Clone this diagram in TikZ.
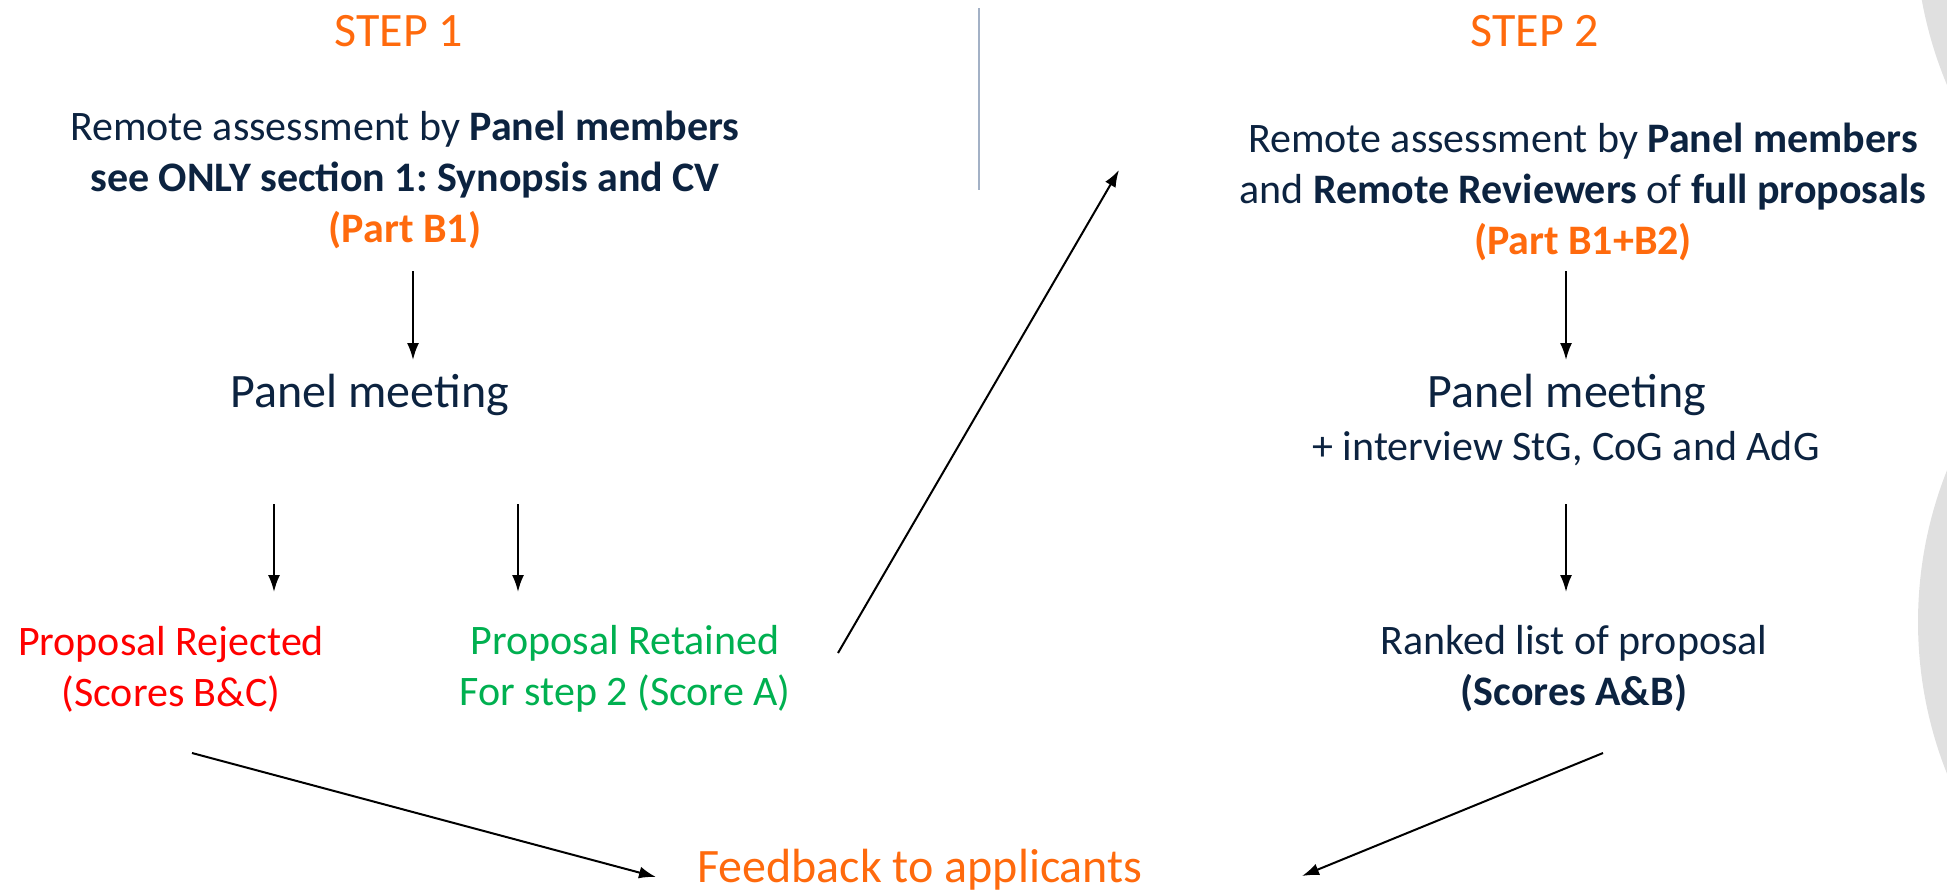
\documentclass[tikz,border=0pt]{standalone}
\usepackage{fontspec}
\setmainfont{Carlito}
\usetikzlibrary{arrows.meta}
\definecolor{navy}{HTML}{0C2340}
\definecolor{ercorange}{HTML}{FF6A0D}
\definecolor{ercred}{HTML}{FF0000}
\definecolor{ercgreen}{HTML}{00B050}
\definecolor{divgray}{HTML}{A3B1C6}
\definecolor{circgray}{HTML}{E0E0E0}
\frenchspacing
\begin{document}
\begin{tikzpicture}[x=0.5pt,y=-0.5pt,
  txt/.style={inner sep=0pt, outer sep=0pt},
  body/.style={txt, font=\fontsize{21pt}{25.5pt}\selectfont, text=navy, align=center},
  big/.style={txt, font=\fontsize{24pt}{29pt}\selectfont, text=navy},
  steptitle/.style={txt, font=\fontsize{24pt}{29pt}\selectfont, text=ercorange},
  arr/.style={line width=1pt, -{Latex[length=8.5pt,width=6pt]}}
]
\useasboundingbox (0,0) rectangle (1947,894);
\begin{scope}
  \clip (0,0) rectangle (1947,894);
  \fill[circgray] (2330,-75) circle[radius=415];
  \fill[circgray] (2328,622) circle[radius=410];
\end{scope}

% divider
\coordinate (dtop) at (979,8);
\coordinate (dbot) at (979,190);
\draw[divgray, line width=1pt] (dtop) -- (dbot);

% titles
\node[steptitle] (s1) at (399,31) {STEP 1};
\node[steptitle] (s2) at (1535,31) {STEP 2};

% step 1
\node[body] (lblock) at (405,180) {Remote assessment by \textbf{Panel members}\\
  \textbf{see ONLY section 1: Synopsis and CV}\\
  \textcolor{ercorange}{\textbf{(Part B1)}}};
\node[big] (lpm) at (370,395) {Panel meeting};
\node[body, text=ercred] (rej) at (171,669) {Proposal Rejected\\(Scores B\&C)};
\node[body, text=ercgreen] (ret) at (625,669) {Proposal Retained\\For step 2 (Score A)};

% step 2
\node[body] (rblock) at (1583,192) {Remote assessment by \textbf{Panel members}\\
  and \textbf{Remote Reviewers} of \textbf{full proposals}\\
  \textcolor{ercorange}{\textbf{(Part B1+B2)}}};
\node[big] (rpm) at (1567,395) {Panel meeting};
\node[body] (intv) at (1566,449) {+ interview StG, CoG and AdG};
\node[body] (rank) at (1574,669) {Ranked list of proposal\\\textbf{(Scores A\&B)}};

% feedback
\node[big, text=ercorange] (fb) at (920,870) {Feedback to applicants};

% arrow ends
\coordinate (a1s) at (413,271); \coordinate (a1e) at (413,360);
\coordinate (a2s) at (274,504); \coordinate (a2e) at (274,592);
\coordinate (a3s) at (518,504); \coordinate (a3e) at (518,592);
\coordinate (a4s) at (1566,271); \coordinate (a4e) at (1566,360);
\coordinate (a5s) at (1566,504); \coordinate (a5e) at (1566,592);
\coordinate (ls) at (838,653); \coordinate (le) at (1119,170);
\coordinate (f1s) at (192,753); \coordinate (f1e) at (656,877);
\coordinate (f2s) at (1603,753); \coordinate (f2e) at (1302,876);

\draw[arr] (a1s) -- (a1e);
\draw[arr] (a2s) -- (a2e);
\draw[arr] (a3s) -- (a3e);
\draw[arr] (a4s) -- (a4e);
\draw[arr] (a5s) -- (a5e);
\draw[arr] (ls) -- (le);
\draw[arr] (f1s) -- (f1e);
\draw[arr] (f2s) -- (f2e);
\end{tikzpicture}
\end{document}
